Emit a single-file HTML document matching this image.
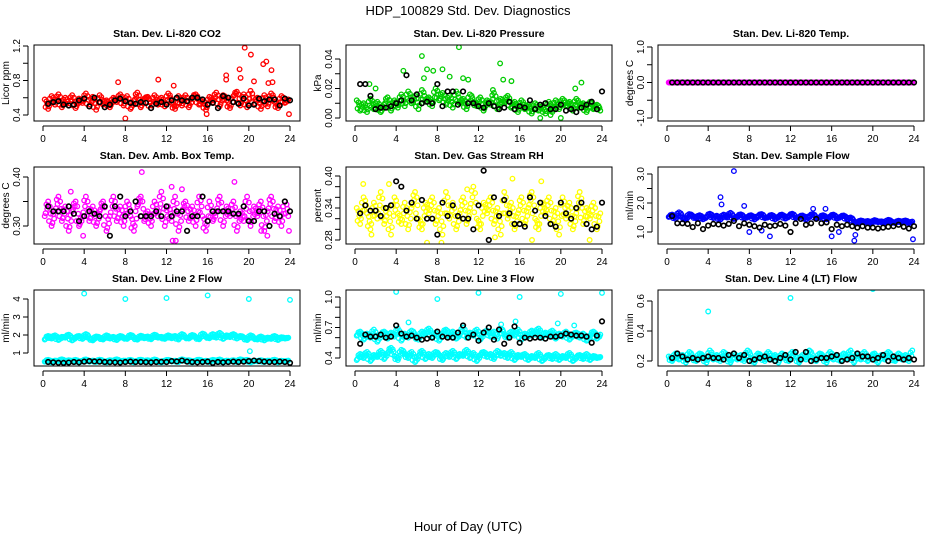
<!DOCTYPE html>
<html><head><meta charset="utf-8"><style>
body{margin:0;background:#fff}
svg{display:block;font-family:"Liberation Sans",sans-serif}
</style></head><body>
<svg id="chart" width="936" height="540" viewBox="0 0 936 540" xmlns="http://www.w3.org/2000/svg">
<text x="468" y="15" text-anchor="middle" font-size="13">HDP_100829  Std. Dev. Diagnostics</text>
<text x="468" y="531" text-anchor="middle" font-size="13">Hour of Day (UTC)</text>
<g id="panels"></g>
</svg>
<script>
const xTicks=[0,4,8,12,16,20,24];
const co2Cloud=[0.58,0.47,0.62,0.52,0.64,0.49,0.60,0.51,0.63,0.48,0.59,0.54,0.65,0.50,0.61,0.46,0.63,0.52,0.57,0.49,0.60,0.55,0.64,0.51,0.62,0.47,0.56,0.66,0.49,0.59,0.61,0.48,0.63,0.52,0.60,0.50,0.65,0.54,0.47,0.62,0.51,0.63,0.49,0.60,0.64,0.52,0.58,0.46,0.61,0.55,0.66,0.50,0.63,0.57,0.48,0.62,0.67,0.51,0.64,0.49,0.68,0.52,0.60,0.47,0.63,0.50,0.65,0.55,0.48,0.62,0.54,0.58];
const co2Black=[0.53,0.55,0.56,0.52,0.51,0.52,0.57,0.59,0.50,0.60,0.55,0.49,0.52,0.57,0.59,0.56,0.54,0.53,0.55,0.54,0.48,0.53,0.55,0.52,0.57,0.60,0.57,0.56,0.60,0.60,0.58,0.52,0.54,0.48,0.62,0.60,0.55,0.53,0.59,0.51,0.52,0.59,0.56,0.58,0.58,0.51,0.59,0.57];
const co2OutX=[7.3,8.0,11.2,12.7,17.8,17.8,19.1,19.6,20.2,21.4,21.7,22.2,23.9,15.9,19.2,20.5,21.9,22.3];
const co2OutY=[0.78,0.36,0.81,0.74,0.86,0.81,0.93,1.18,1.10,0.99,1.02,0.92,0.41,0.41,0.83,0.79,0.77,0.78];
const presCloud=[0.012,0.005,0.010,0.004,0.013,0.006,0.011,0.004,0.009,0.014,0.005,0.012,0.007,0.016,0.008,0.018,0.010,0.015,0.006,0.019,0.011,0.014,0.008,0.020,0.012,0.017,0.009,0.015,0.007,0.018,0.010,0.013,0.006,0.016,0.011,0.008,0.014,0.005,0.012,0.009,0.017,0.006,0.013,0.010,0.015,0.007,0.011,0.004,0.012,0.006,0.009,0.003,0.010,0.005,0.008,0.003,0.011,0.004,0.012,0.006,0.013,0.008,0.011,0.005,0.013,0.007,0.010,0.004,0.011,0.006,0.009,0.005];
const presBlack=[0.023,0.023,0.015,0.006,0.007,0.007,0.008,0.010,0.012,0.029,0.012,0.016,0.010,0.011,0.010,0.023,0.008,0.018,0.018,0.009,0.018,0.010,0.010,0.008,0.007,0.010,0.008,0.006,0.007,0.011,0.006,0.008,0.007,0.012,0.006,0.009,0.010,0.006,0.006,0.009,0.005,0.006,0.004,0.007,0.009,0.011,0.006,0.018];
const presOutX=[6.5,10.1,14.1,4.7,7.0,7.6,8.5,6.7,9.2,10.5,11.0,13.4,15.2,14.4,21.4,22.0,18.0,20.0,19.0,1.4,2.0];
const presOutY=[0.042,0.048,0.037,0.032,0.033,0.032,0.033,0.027,0.028,0.027,0.026,0.019,0.025,0.026,0.020,0.024,0.000,0.000,0.002,0.023,0.020];
const tempCloud=new Array(72).fill(0);
const tempBlack=new Array(48).fill(0);
const boxCloud=[0.32,0.35,0.30,0.33,0.36,0.31,0.34,0.29,0.33,0.35,0.30,0.32,0.36,0.31,0.34,0.30,0.33,0.35,0.29,0.32,0.36,0.31,0.34,0.30,0.35,0.32,0.29,0.34,0.36,0.31,0.33,0.30,0.35,0.32,0.37,0.30,0.34,0.31,0.36,0.29,0.33,0.35,0.31,0.34,0.30,0.36,0.32,0.29,0.35,0.31,0.33,0.36,0.30,0.34,0.32,0.35,0.29,0.33,0.31,0.36,0.30,0.34,0.32,0.35,0.29,0.33,0.36,0.31,0.34,0.30,0.35,0.32];
const boxBlack=[0.34,0.33,0.33,0.33,0.34,0.325,0.31,0.32,0.33,0.325,0.32,0.34,0.28,0.34,0.36,0.32,0.33,0.35,0.32,0.32,0.32,0.33,0.32,0.34,0.32,0.33,0.33,0.29,0.32,0.32,0.36,0.31,0.33,0.33,0.33,0.33,0.325,0.325,0.34,0.31,0.31,0.33,0.33,0.30,0.325,0.32,0.35,0.33];
const boxOutX=[9.6,18.6,12.5,12.6,12.9,3.9,23.9,21.2,21.8,2.7,13.5];
const boxOutY=[0.41,0.39,0.38,0.27,0.27,0.28,0.29,0.29,0.28,0.37,0.375];
const rhCloud=[0.34,0.31,0.36,0.33,0.30,0.35,0.32,0.37,0.31,0.34,0.29,0.36,0.33,0.31,0.35,0.30,0.34,0.37,0.32,0.30,0.35,0.33,0.36,0.31,0.34,0.29,0.37,0.32,0.35,0.30,0.33,0.36,0.31,0.34,0.38,0.32,0.30,0.35,0.33,0.36,0.31,0.34,0.29,0.37,0.32,0.35,0.30,0.33,0.36,0.31,0.34,0.37,0.32,0.30,0.35,0.33,0.36,0.31,0.34,0.29,0.36,0.32,0.35,0.30,0.33,0.37,0.31,0.34,0.32,0.35,0.30,0.33];
const rhBlack=[0.33,0.345,0.335,0.335,0.325,0.34,0.345,0.39,0.38,0.335,0.35,0.32,0.355,0.32,0.32,0.29,0.35,0.325,0.345,0.325,0.32,0.32,0.30,0.345,0.41,0.28,0.36,0.325,0.355,0.33,0.31,0.31,0.305,0.36,0.335,0.35,0.325,0.31,0.305,0.35,0.33,0.32,0.34,0.35,0.31,0.30,0.305,0.35];
const rhOutX=[0.8,3.3,7.0,8.4,13.6,15.3,17.2,18.1,22.8,1.6,10.9];
const rhOutY=[0.385,0.385,0.275,0.275,0.285,0.395,0.28,0.39,0.28,0.29,0.375];
const flowCloud=[1.52,1.60,1.45,1.68,1.50,1.42,1.62,1.55,1.47,1.58,1.44,1.52,1.63,1.48,1.56,1.42,1.60,1.50,1.66,1.45,1.54,1.61,1.47,1.52,1.58,1.43,1.55,1.62,1.48,1.51,1.59,1.44,1.53,1.60,1.46,1.55,1.63,1.48,1.52,1.57,1.43,1.55,1.62,1.47,1.50,1.58,1.44,1.53,1.60,1.46,1.52,1.57,1.43,1.50,1.36,1.30,1.40,1.33,1.38,1.29,1.41,1.34,1.37,1.30,1.42,1.35,1.31,1.39,1.33,1.40,1.30,1.36];
const flowBlack=[1.55,1.30,1.30,1.28,1.17,1.30,1.10,1.22,1.28,1.26,1.22,1.28,1.38,1.20,1.30,1.25,1.20,1.15,1.25,1.20,1.22,1.28,1.22,1.00,1.30,1.45,1.25,1.30,1.45,1.30,1.33,1.10,1.25,1.20,1.25,1.20,1.15,1.20,1.15,1.15,1.12,1.15,1.18,1.20,1.25,1.18,1.12,1.20];
const flowOutX=[6.5,5.2,5.3,7.5,15.4,16.0,18.2,18.3,23.9,8.0,10.0,16.7,9.2,14.2];
const flowOutY=[3.1,2.2,1.95,1.9,1.8,0.85,0.7,0.9,0.75,1.0,0.85,1.0,1.05,1.8];
const l2Hi=[1.75,1.95,1.80,1.98,1.72,1.90,1.85,2.02,1.70,1.88,1.95,1.78,2.05,1.82,1.70,1.92,1.86,1.75,1.98,1.80,1.90,1.72,1.95,1.84,1.78,2.00,1.86,1.74,1.96,1.82,1.92,1.76,2.02,1.85,1.90,1.78,1.98,1.82,1.95,1.75,2.05,1.86,1.80,2.00,1.88,1.76,2.08,1.90,1.82,2.05,1.85,2.12,1.78,1.98,1.88,2.05,1.80,1.95,1.86,1.72,1.98,1.82,1.75,1.92,1.70,1.86,1.78,1.95,1.72,1.88,1.80,1.85];
const l2Lo=[0.52,0.62,0.48,0.58,0.55,0.65,0.50,0.60,0.53,0.62,0.48,0.57,0.64,0.52,0.58,0.50,0.63,0.55,0.48,0.60,0.53,0.65,0.50,0.58,0.55,0.62,0.48,0.57,0.63,0.52,0.60,0.50,0.64,0.55,0.48,0.58,0.62,0.53,0.57,0.50,0.65,0.55,0.60,0.48,0.58,0.63,0.52,0.57,0.50,0.62,0.55,0.64,0.48,0.58,0.53,0.60,0.50,0.65,0.55,0.62,0.48,0.57,0.53,0.60,0.50,0.58,0.55,0.63,0.48,0.57,0.52,0.58];
const l2Black=[0.50,0.48,0.46,0.45,0.47,0.50,0.48,0.52,0.55,0.53,0.52,0.50,0.49,0.48,0.47,0.50,0.52,0.50,0.50,0.49,0.48,0.50,0.51,0.50,0.55,0.53,0.58,0.52,0.50,0.48,0.50,0.52,0.45,0.50,0.48,0.50,0.52,0.50,0.52,0.55,0.58,0.55,0.52,0.50,0.50,0.52,0.50,0.45];
const l2OutX=[4,8,12,16,20,24,20.1];
const l2OutY=[4.3,4.0,4.05,4.2,4.0,3.95,1.1];
const l3Hi=[0.62,0.66,0.58,0.64,0.60,0.68,0.56,0.63,0.66,0.59,0.65,0.61,0.69,0.57,0.64,0.60,0.67,0.62,0.58,0.66,0.63,0.69,0.60,0.65,0.57,0.64,0.68,0.61,0.66,0.59,0.63,0.70,0.60,0.65,0.62,0.68,0.58,0.64,0.67,0.61,0.66,0.59,0.69,0.63,0.60,0.66,0.62,0.68,0.58,0.64,0.61,0.67,0.63,0.69,0.60,0.65,0.62,0.67,0.59,0.64,0.61,0.66,0.58,0.63,0.65,0.60,0.64,0.57,0.62,0.66,0.59,0.63];
const l3Lo=[0.38,0.44,0.40,0.46,0.37,0.43,0.41,0.47,0.39,0.45,0.50,0.42,0.38,0.48,0.44,0.40,0.46,0.36,0.42,0.47,0.39,0.44,0.40,0.46,0.43,0.38,0.45,0.41,0.47,0.39,0.44,0.42,0.48,0.40,0.45,0.37,0.43,0.46,0.41,0.44,0.39,0.47,0.42,0.45,0.40,0.46,0.38,0.43,0.41,0.44,0.38,0.42,0.40,0.45,0.37,0.41,0.43,0.39,0.44,0.38,0.42,0.40,0.45,0.37,0.41,0.43,0.39,0.44,0.38,0.42,0.40,0.41];
const l3Black=[0.54,0.63,0.61,0.61,0.63,0.60,0.61,0.72,0.64,0.61,0.62,0.60,0.58,0.59,0.60,0.66,0.61,0.60,0.60,0.65,0.72,0.60,0.63,0.57,0.65,0.70,0.58,0.68,0.54,0.60,0.71,0.55,0.60,0.59,0.60,0.60,0.59,0.61,0.61,0.62,0.64,0.63,0.62,0.62,0.61,0.55,0.62,0.76];
const l3OutX=[4,8,12,16,20,24,5.2,15.6,14.2,19.7,21.3];
const l3OutY=[1.05,0.98,1.04,1.00,1.03,1.04,0.75,0.76,0.73,0.74,0.72];
const l4Cloud=[0.23,0.20,0.25,0.21,0.24,0.19,0.26,0.22,0.20,0.25,0.23,0.19,0.27,0.21,0.24,0.20,0.26,0.22,0.19,0.25,0.21,0.24,0.20,0.27,0.22,0.19,0.25,0.23,0.20,0.26,0.21,0.24,0.19,0.25,0.22,0.20,0.26,0.23,0.19,0.24,0.21,0.27,0.22,0.20,0.25,0.23,0.19,0.26,0.21,0.24,0.20,0.25,0.22,0.27,0.19,0.24,0.21,0.26,0.20,0.23,0.25,0.19,0.24,0.21,0.26,0.22,0.20,0.25,0.21,0.24,0.20,0.27];
const l4Black=[0.22,0.25,0.23,0.21,0.22,0.21,0.22,0.23,0.22,0.22,0.21,0.24,0.25,0.22,0.24,0.20,0.21,0.22,0.23,0.21,0.20,0.22,0.24,0.21,0.26,0.21,0.26,0.20,0.21,0.22,0.22,0.23,0.24,0.20,0.21,0.22,0.25,0.23,0.23,0.21,0.22,0.24,0.20,0.23,0.22,0.21,0.22,0.21];
const l4OutX=[4,12,20];
const l4OutY=[0.53,0.62,0.68];

const panels=[
 {name:'co2',title:'Stan. Dev. Li-820 CO2',ylab:'Licor ppm',col:0,row:0,v1:1.2,p1:46,v2:0.4,p2:115,ticks:[0.4,0.6,0.8,1.0,1.2],labels:['0.4','','0.8','','1.2'],color:'#ff0000',clouds:[co2Cloud],black:co2Black,ox:co2OutX,oy:co2OutY},
 {name:'pressure',title:'Stan. Dev. Li-820 Pressure',ylab:'kPa',col:1,row:0,v1:0.04,p1:59,v2:0,p2:118,ticks:[0,0.01,0.02,0.03,0.04],labels:['0.00','','0.02','','0.04'],color:'#00cc00',clouds:[presCloud],black:presBlack,ox:presOutX,oy:presOutY},
 {name:'temp',title:'Stan. Dev. Li-820 Temp.',ylab:'degrees C',col:2,row:0,v1:1,p1:47,v2:-1,p2:118,ticks:[-1,-0.5,0,0.5,1],labels:['-1.0','','0.0','','1.0'],color:'#ff00ff',clouds:[tempCloud],black:tempBlack,ox:[],oy:[]},
 {name:'box-temp',title:'Stan. Dev. Amb. Box Temp.',ylab:'degrees C',col:0,row:1,v1:0.4,p1:177,v2:0.3,p2:226,ticks:[0.30,0.35,0.40],labels:['0.30','','0.40'],color:'#ff00ff',clouds:[boxCloud],black:boxBlack,ox:boxOutX,oy:boxOutY},
 {name:'rh',title:'Stan. Dev. Gas Stream RH',ylab:'percent',col:1,row:1,v1:0.4,p1:176,v2:0.28,p2:240,ticks:[0.28,0.30,0.32,0.34,0.36,0.38,0.40],labels:['0.28','','','0.34','','','0.40'],color:'#ffff00',clouds:[rhCloud],black:rhBlack,ox:rhOutX,oy:rhOutY},
 {name:'sample-flow',title:'Stan. Dev. Sample Flow',ylab:'ml/min',col:2,row:1,v1:3,p1:174,v2:1,p2:232,ticks:[1,1.5,2,2.5,3],labels:['1.0','','2.0','','3.0'],color:'#0000ff',clouds:[flowCloud],black:flowBlack,ox:flowOutX,oy:flowOutY},
 {name:'line2',title:'Stan. Dev. Line 2 Flow',ylab:'ml/min',col:0,row:2,v1:4,p1:299,v2:1,p2:353,ticks:[1,2,3,4],labels:['1','2','3','4'],color:'#00ffff',clouds:[l2Hi,l2Lo],black:l2Black,ox:l2OutX,oy:l2OutY},
 {name:'line3',title:'Stan. Dev. Line 3 Flow',ylab:'ml/min',col:1,row:2,v1:1,p1:297,v2:0.4,p2:358,ticks:[0.4,0.5,0.6,0.7,0.8,0.9,1.0],labels:['0.4','','','0.7','','','1.0'],color:'#00ffff',clouds:[l3Hi,l3Lo],black:l3Black,ox:l3OutX,oy:l3OutY},
 {name:'line4',title:'Stan. Dev. Line 4 (LT) Flow',ylab:'ml/min',col:2,row:2,v1:0.6,p1:301,v2:0.2,p2:361,ticks:[0.2,0.4,0.6],labels:['0.2','0.4','0.6'],color:'#00ffff',clouds:[l4Cloud],black:l4Black,ox:l4OutX,oy:l4OutY}
];
const NS='http://www.w3.org/2000/svg';
const root=document.getElementById('panels');
const rowTop=[45,167,290],rowBot=[121,244,366];
function mk(tag,attrs,parent){const e=document.createElementNS(NS,tag);for(const k in attrs)e.setAttribute(k,attrs[k]);parent.appendChild(e);return e;}
panels.forEach(p=>{
  const g=mk('g',{},root);
  
  
  const x0=43+p.col*312;
  const xs=h=>x0+h*247/24;
  const ys=v=>p.p1+(v-p.v1)*(p.p2-p.p1)/(p.v2-p.v1);
  const top=rowTop[p.row],bot=rowBot[p.row],L=x0-9,R=x0+257;
  const t=mk('text',{x:(L+R)/2,y:top-8,'text-anchor':'middle','font-size':'10.5','font-weight':'bold'},g);t.textContent=p.title;
  
  
  const clip='clip-'+p.name;
  const cp=mk('clipPath',{id:clip},g);mk('rect',{x:L,y:top,width:R-L,height:bot-top},cp);
  const pts=mk('g',{'clip-path':'url(#'+clip+')',fill:'none','stroke-width':'1.3'},g);
  p.clouds.forEach(arr=>{
    const n=arr.length;
    arr.forEach((v,i)=>{
      const c=mk('circle',{cx:xs((i+0.5)*24/n),cy:ys(v),r:2.3,stroke:p.color},pts);
      
      
      if(i<n-1){
        const a=(v+arr[i+1])/2, d=Math.abs(v-arr[i+1])/2;
        [a-d*0.6,a+d*0.6,a].forEach((w,k)=>{
          const c2=mk('circle',{cx:xs((i+0.5+(k+1)/4)*24/n),cy:ys(w),r:2.3,stroke:p.color},pts);
          
          
        });
      }
    });
  });
  p.ox.forEach((h,i)=>{
    const c=mk('circle',{cx:xs(h),cy:ys(p.oy[i]),r:2.3,stroke:p.color},pts);
    
    
  });
  p.black.forEach((v,i)=>{
    const c=mk('circle',{cx:xs((i+1)*24/p.black.length),cy:ys(v),r:2.3,stroke:'#000','stroke-width':'1.6'},pts);
    
    
  });
  const box=mk('rect',{x:L,y:top,width:R-L,height:bot-top,fill:'none',stroke:'#000','stroke-width':'1'},g);
  
  
  xTicks.forEach(h=>{
    mk('line',{x1:xs(h),x2:xs(h),y1:bot+5,y2:bot+10,stroke:'#000'},g);
    const tl=mk('text',{x:xs(h),y:bot+21,'text-anchor':'middle','font-size':'10'},g);tl.textContent=h;
    
    
  });
  mk('line',{x1:xs(0),x2:xs(24),y1:bot+5,y2:bot+5,stroke:'#000'},g);
  const yb=ys(p.ticks[0]),yt=ys(p.ticks[p.ticks.length-1]);
  mk('line',{x1:L-6,x2:L-6,y1:yb,y2:yt,stroke:'#000'},g);
  p.ticks.forEach((v,i)=>{
    mk('line',{x1:L-11,x2:L-6,y1:ys(v),y2:ys(v),stroke:'#000'},g);
    if(p.labels[i]){const tl=mk('text',{x:0,y:0,transform:`translate(${L-14},${ys(v)}) rotate(-90)`,'text-anchor':'middle','font-size':'10'},g);tl.textContent=p.labels[i];
    
    }
  });
  const yl=mk('text',{x:0,y:0,transform:`translate(${L-25},${(top+bot)/2}) rotate(-90)`,'text-anchor':'middle','font-size':'10'},g);yl.textContent=p.ylab;
  
  
});
</script>
</body></html>
